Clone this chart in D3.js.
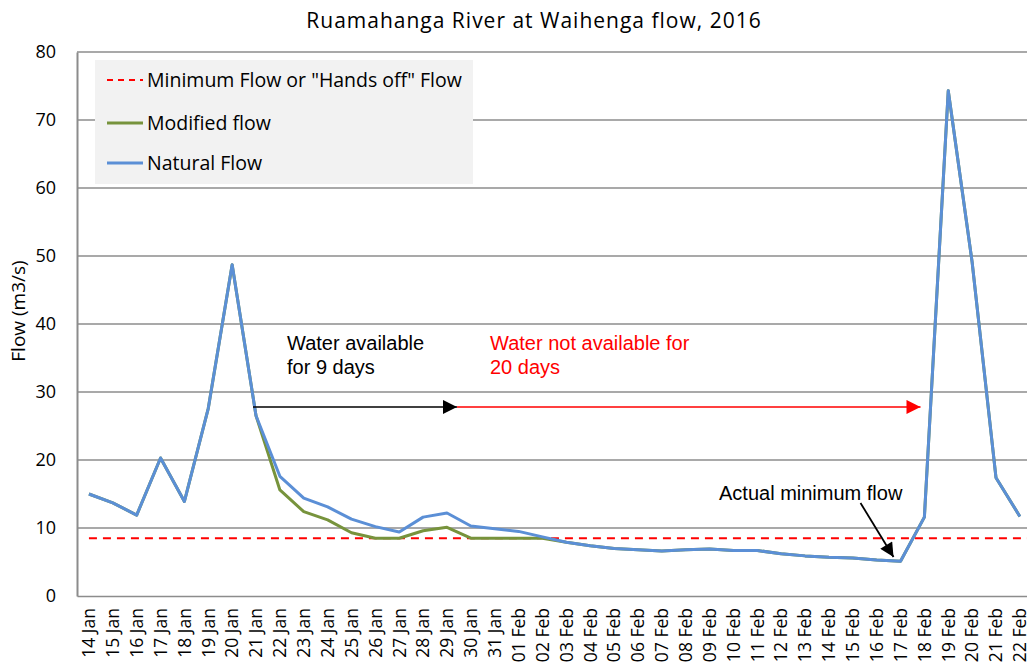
<!DOCTYPE html>
<html><head><meta charset="utf-8">
<script src="https://cdn.jsdelivr.net/npm/d3@7"></script>
<style>body{margin:0;background:#fff}svg{display:block}</style>
</head><body>
<script>
const dates = ["14 Jan","15 Jan","16 Jan","17 Jan","18 Jan","19 Jan","20 Jan","21 Jan","22 Jan","23 Jan","24 Jan","25 Jan","26 Jan","27 Jan","28 Jan","29 Jan","30 Jan","31 Jan","01 Feb","02 Feb","03 Feb","04 Feb","05 Feb","06 Feb","07 Feb","08 Feb","09 Feb","10 Feb","11 Feb","12 Feb","13 Feb","14 Feb","15 Feb","16 Feb","17 Feb","18 Feb","19 Feb","20 Feb","21 Feb","22 Feb"];
const naturalFlow = [15.0,13.7,11.9,20.3,13.9,27.6,48.7,26.5,17.6,14.4,13.1,11.3,10.2,9.4,11.6,12.2,10.3,9.9,9.5,8.7,7.9,7.4,7.0,6.8,6.6,6.8,6.9,6.7,6.7,6.2,5.9,5.7,5.6,5.3,5.1,11.6,74.3,49.1,17.4,11.7];
const modifiedFlow = [15.0,13.7,11.9,20.3,13.9,27.6,48.7,26.5,15.6,12.4,11.2,9.3,8.5,8.5,9.6,10.1,8.5,8.5,8.5,8.5,7.9,7.4,7.0,6.8,6.6,6.8,6.9,6.7,6.7,6.2,5.9,5.7,5.6,5.3,5.1,11.6,74.3,49.1,17.4,11.7];
const minimumFlow = 8.5;
const yTicks = [0,10,20,30,40,50,60,70,80];
const title = "Ruamahanga River at Waihenga flow, 2016";
const yTitle = "Flow (m3/s)";
const legendLabels = ["Minimum Flow or \"Hands off\" Flow","Modified flow","Natural Flow"];
const arrowY = 27.8;
const availableFrom = "21 Jan", availableTo = "29 Jan", notAvailableTo = "17 Feb";
const actualMinDate = "17 Feb";

const W = 1027, H = 666;
const FONT = "'Open Sans', Lato, sans-serif";
const ARIAL = "'Liberation Sans', Arial, sans-serif";
const svg = d3.select("body").append("svg").attr("width", W).attr("height", H)
  .style("font-family", FONT);

const left = 77, bandW = 23.87;
const x = d3.scaleBand().domain(dates).range([left, left + dates.length * bandW]).padding(0);
const cx = d => x(d) + x.bandwidth() / 2;
const y = d3.scaleLinear().domain([0, 80]).range([596, 52]);

const defs = svg.append("defs");
function marker(id, color) {
  defs.append("marker").attr("id", id).attr("viewBox", "0 0 10 10").attr("refX", 10).attr("refY", 5)
    .attr("markerWidth", 16).attr("markerHeight", 14).attr("markerUnits", "userSpaceOnUse").attr("orient", "auto")
    .append("path").attr("d", "M0,0L10,5L0,10Z").attr("fill", color);
}
marker("ab", "#000"); marker("ar", "#ff0000");

// gridlines
svg.append("g").selectAll("line").data(yTicks.filter(t => t > 0)).join("line")
  .attr("x1", left).attr("x2", W).attr("y1", d => y(d)).attr("y2", d => y(d))
  .attr("stroke", "#8c8c8c").attr("stroke-width", 1.3);

// y axis
const ya = svg.append("g").attr("transform", `translate(${left},0)`).call(d3.axisLeft(y).tickValues(yTicks).tickSize(0).tickPadding(21));
ya.select(".domain").attr("stroke", "#8c8c8c").attr("stroke-width", 2);
ya.selectAll("text").attr("font-size", 18).attr("fill", "#000").attr("font-family", FONT);

// x axis
const xa = svg.append("g").attr("transform", "translate(0,596)").call(d3.axisBottom(x).tickSize(0));
xa.select(".domain").attr("stroke", "#8c8c8c").attr("stroke-width", 1.5);
xa.selectAll("text").attr("font-size", 17.5).attr("fill", "#000").attr("font-family", FONT)
  .attr("transform", "rotate(-90)").attr("text-anchor", "end").attr("dy", "0.36em").attr("x", -12).attr("y", 0);

// minimum flow line
svg.append("line").attr("x1", cx(dates[0])).attr("x2", W).attr("y1", y(minimumFlow)).attr("y2", y(minimumFlow))
  .attr("stroke", "#ff0000").attr("stroke-width", 2).attr("stroke-dasharray", "8,6");

const line = d3.line().x((d, i) => cx(dates[i])).y(d => y(d));
svg.append("path").datum(modifiedFlow).attr("d", line).attr("fill", "none").attr("stroke", "#77933c").attr("stroke-width", 3).attr("stroke-linejoin", "round");
svg.append("path").datum(naturalFlow).attr("d", line).attr("fill", "none").attr("stroke", "#5b8fd6").attr("stroke-width", 3).attr("stroke-linejoin", "round");

// arrows
svg.append("line").attr("x1", cx(availableFrom) - 3).attr("x2", cx(availableTo) + 10).attr("y1", y(arrowY)).attr("y2", y(arrowY))
  .attr("stroke", "#000").attr("stroke-width", 1.5).attr("marker-end", "url(#ab)");
svg.append("line").attr("x1", cx(availableTo) + 10).attr("x2", cx(notAvailableTo) + 20).attr("y1", y(arrowY)).attr("y2", y(arrowY))
  .attr("stroke", "#ff0000").attr("stroke-width", 1.5).attr("marker-end", "url(#ar)");
svg.append("line").attr("x1", cx(actualMinDate) - 40).attr("y1", 503).attr("x2", cx(actualMinDate) - 7).attr("y2", 557)
  .attr("stroke", "#000").attr("stroke-width", 1.8).attr("marker-end", "url(#ab)");

// annotations
const ann = svg.append("g").attr("font-family", ARIAL).attr("font-size", 20);
ann.append("text").attr("x", 287).attr("y", 350).text("Water available");
ann.append("text").attr("x", 287).attr("y", 374).text("for 9 days");
ann.append("text").attr("x", 490).attr("y", 350).attr("fill", "#ff0000").text("Water not available for");
ann.append("text").attr("x", 490).attr("y", 374).attr("fill", "#ff0000").text("20 days");
ann.append("text").attr("x", 719).attr("y", 500).text("Actual minimum flow");

// title
svg.append("text").attr("x", 534).attr("y", 28).attr("text-anchor", "middle").attr("font-size", 21).attr("letter-spacing", 1).text(title);
// y title
svg.append("text").attr("transform", "translate(25,311) rotate(-90)").attr("text-anchor", "middle").attr("font-size", 19).text(yTitle);

// legend
const lg = svg.append("g");
lg.append("rect").attr("x", 95).attr("y", 60).attr("width", 378).attr("height", 124).attr("fill", "#f2f2f2");
const rows = [80, 123, 163];
const styles = [{c:"#ff0000", d:"6,5", w:2}, {c:"#77933c", d:null, w:3}, {c:"#5b8fd6", d:null, w:3}];
legendLabels.forEach((t, i) => {
  lg.append("line").attr("x1", 107).attr("x2", 143).attr("y1", rows[i]).attr("y2", rows[i])
    .attr("stroke", styles[i].c).attr("stroke-width", styles[i].w).attr("stroke-dasharray", styles[i].d);
  lg.append("text").attr("x", 147).attr("y", rows[i]).attr("dy", "0.35em").attr("font-size", 19.5).text(t);
});
</script>
</body></html>
